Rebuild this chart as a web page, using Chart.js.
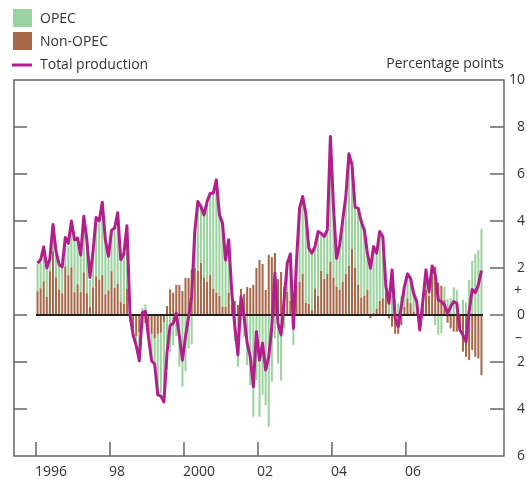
<!DOCTYPE html>
<html>
<head>
<meta charset="utf-8">
<script src="https://cdn.jsdelivr.net/npm/chart.js@4"></script>
<style>
  body { margin: 0; background: #fff; }
  #wrap { width: 527px; height: 479px; }
</style>
</head>
<body>
<div id="wrap"><canvas id="oilChart" width="527" height="479"></canvas></div>
<script>
// monthly, Jan 1996 to Jan 2008
const months = [];
for (let yr = 1996; yr <= 2008; yr++) {
    for (let m = 1; m <= 12; m++) {
        if (yr === 2008 && m > 1) break;
        months.push(yr + '-' + String(m).padStart(2, '0'));
    }
}

// contributions, percentage points
const nonOpec = [
    1.01, 1.14, 1.43, 0.77, 1.86, 2.71, 1.6, 1.09, 0.92, 2.07, 1.69, 2.03, 0.97, 1.31, 0.97, 1.82, 0.92, 0.34, 1.18, 1.65, 1.5, 1.7, 0.88, 1.05, 1.86, 1.16, 1.33, 0.55, 0.48, 1.1,
    -0.25, -0.55, -0.9, -0.75, -0.4, -0.35, -0.85, -0.8, -1.0, -0.8, -0.75, -0.3, 0.38, 1.09, 0.95, 1.28, 1.28, 1.02, 1.58, 1.58, 1.93,
    2.0, 1.88, 2.22, 1.59, 1.41, 1.7, 1.11, 0.94, 0.81, 0.36, 0.36, 0.94, 0.43, 0.6, 0.43, 1.11, 0.9, 1.19, 1.15, 1.28,
    2.0, 2.34, 2.17, 1.07, 2.56, 2.46, 2.64, 1.53, 1.83, 1.2, 0.98, 0.6, 0.7, 1.24, 1.41, 1.75, 0.51, 0.47, 0.21, 1.11, 0.81, 1.88, 1.53, 1.75, 2.26, 1.59,
    1.21, 1.07, 1.42, 1.75, 2.09, 2.81, 2.0, 1.29, 0.74, 0.82, 1.07, -0.14, 0.1, 0.26, 0.6, 0.71, 0.95, -0.15, -0.5, -0.8, -0.8, -0.43, 0.36, 0.71,
    0.5, 0.14, 0.1, -0.07, 0.3, 1.07, 0.81, 1.7, 2.06, 1.38, 1.24, 0.64, -0.33, -0.57, -0.71, -0.71, -0.6, -1.56, -1.78, -1.92, -1.49, -1.78, -1.85, -2.56
];
const opec = [
    1.15, 1.12, 1.32, 1.16, 0.54, 0.89, 1.15, 1.07, 1.15, 1.11, 1.24, 1.87, 2.21, 1.93, 1.57, 2.28, 2.26, 1.16, 1.43, 2.38, 2.4, 2.97, 2.3, 1.42, 1.64, 2.44, 2.93, 1.79, 2.22, 2.6,
    0.15, -0.3, -0.4, -1.2, 0.3, 0.45, -0.1, -1.1, -1.2, -2.6, -2.6, -3.3, -2.3, -1.56, -1.28, -0.9, -2.2, -3.05, -2.4, -1.42, -1.25,
    1.55, 2.95, 2.4, 2.67, 3.42, 3.48, 4.07, 4.81, 3.45, 3.55, 1.98, 2.26, 0.56, -1.1, -2.2, -0.36, -0.92, -2.13, -2.98, -4.33,
    -2.77, -4.33, -3.41, -3.84, -4.76, -2.84, -0.99, -2.06, -2.8, -0.57, 1.22, 2.0, -1.28, 1.0, 3.14, 3.29, 3.82, 2.37, 2.42, 1.8, 2.74, 1.6, 1.81, 1.87, 5.34, 3.0,
    1.2, 1.91, 2.63, 3.29, 4.77, 3.59, 2.59, 3.26, 3.24, 2.8, 1.56, 2.1, 2.8, 2.37, 2.95, 2.63, 0.5, 0.7, 1.9, 0.7, 0.5, 0.8, 0.84, 1.04,
    1.06, 0.78, 0.47, -0.6, 0.3, 0.85, 0.18, 0.39, -0.43, -0.85, -0.78, 0.56, 0.67, 0.71, 1.18, 1.07, -0.05, 0.64, 0.53, 1.49, 2.3, 2.6, 2.77, 3.66
];
const totalProduction = [
    2.2, 2.35, 2.9, 2.0, 2.4, 3.85, 2.7, 2.15, 2.05, 3.3, 3.05, 4.0, 3.2, 3.27, 2.55, 4.2, 3.2, 1.6, 2.7, 4.15, 4.0, 4.8, 3.2, 2.5, 3.6, 3.7, 4.35, 2.35, 2.6, 3.8,
    0.0, -0.85, -1.3, -1.95, 0.1, 0.15, -0.95, -1.95, -2.1, -3.4, -3.45, -3.7, -1.6, -0.45, -0.35, 0.08, -0.9, -1.92, -0.92, -0.07, 0.78,
    3.55, 4.83, 4.62, 4.26, 4.83, 5.18, 5.18, 5.75, 4.26, 3.91, 2.34, 3.2, 0.99, -0.5, -1.7, 0.78, -0.07, -1.2, -1.78, -3.05,
    -0.71, -1.92, -1.2, -2.34, -1.78, -0.5, 1.78, -0.36, -0.85, 0.64, 2.2, 2.6, -0.57, 2.3, 4.55, 5.04, 4.33, 2.84, 2.63, 2.91, 3.55, 3.48, 3.34, 3.62, 7.6, 4.6,
    2.41, 2.98, 4.05, 5.04, 6.86, 6.4, 4.59, 4.55, 3.98, 3.62, 2.63, 1.99, 2.91, 2.63, 3.55, 3.34, 1.21, 0.5, 1.92, -0.14, -0.5, 0.36, 1.2, 1.75,
    1.56, 0.92, 0.57, -0.64, 0.6, 1.92, 0.99, 2.09, 1.7, 0.64, 0.57, 0.43, 0.07, 0.36, 0.57, 0.5, -0.64, -0.85, -1.14, 0.14, 1.09, 0.95, 1.28, 1.89
];

const yearTicks = ['1996-01', '1998-01', '2000-01', '2002-01', '2004-01', '2006-01'];
const yearLabels = ['1996', '98', '2000', '02', '04', '06'];
const yTicks = [10, 8, 6, 4, 2, 0, -2, -4, -6];
const yTickLabels = ['10', '8', '6', '4', '2', '0', '2', '4', '6'];

const GREEN = 'rgb(155, 211, 158)';
const BROWN = 'rgb(166, 104, 72)';
const MAGENTA = 'rgb(178, 30, 140)';
const TEXT = '#333';
const FRAME = '#666';
const FONT = '14px "Open Sans", "Noto Sans", sans-serif';

const decorations = {
    id: 'decorations',
    afterDatasetDraw(chart, args) {
        if (args.meta.type !== 'bar') return;
        // zero line sits over the bars but under the total line
        const ctx = chart.ctx;
        const y0 = chart.scales.y.getPixelForValue(0);
        ctx.save();
        ctx.strokeStyle = '#222';
        ctx.lineWidth = 2;
        ctx.beginPath();
        ctx.moveTo(chart.chartArea.left, y0);
        ctx.lineTo(chart.chartArea.right, y0);
        ctx.stroke();
        ctx.restore();
    },
    afterDraw(chart) {
        const ctx = chart.ctx;
        const xs = chart.scales.x;
        const ys = chart.scales.y;
        const top = ys.getPixelForValue(10);
        const bottom = ys.getPixelForValue(-6);
        const left = chart.chartArea.left - 22;
        const right = chart.chartArea.right + 21;

        ctx.save();
        // box
        ctx.strokeStyle = FRAME;
        ctx.lineWidth = 1.5;
        ctx.strokeRect(left, top, right - left, bottom - top);

        // y ticks on both sides
        yTicks.forEach(v => {
            const py = ys.getPixelForValue(v);
            if (v !== 10 && v !== -6) {
                ctx.beginPath();
                ctx.moveTo(left, py); ctx.lineTo(left + 13, py);
                ctx.moveTo(right - 14, py); ctx.lineTo(right, py);
                ctx.stroke();
            }
        });

        // x ticks at the start of each labelled year
        const half = (xs.getPixelForValue(1) - xs.getPixelForValue(0)) / 2;
        ctx.font = FONT;
        ctx.fillStyle = TEXT;
        ctx.textBaseline = 'middle';
        ctx.textAlign = 'left';
        yearTicks.forEach((m, i) => {
            const px = xs.getPixelForValue(months.indexOf(m)) - half;
            ctx.beginPath();
            ctx.moveTo(px, bottom); ctx.lineTo(px, bottom - 14);
            ctx.stroke();
            ctx.fillText(yearLabels[i], px - 1, bottom + 16);
        });

        // right-hand tick labels
        ctx.textAlign = 'right';
        yTicks.forEach((v, i) => {
            ctx.fillText(yTickLabels[i], right + 21, ys.getPixelForValue(v));
        });
        ctx.fillText('+', right + 18, ys.getPixelForValue(1));
        ctx.fillText('\u2013', right + 18, ys.getPixelForValue(-1));
        ctx.fillText('Percentage points', right, 64);

        // legend
        ctx.textAlign = 'left';
        ctx.fillStyle = GREEN;
        ctx.fillRect(13, 9, 19, 18);
        ctx.fillStyle = BROWN;
        ctx.fillRect(13, 32, 19, 18);
        ctx.strokeStyle = MAGENTA;
        ctx.lineWidth = 3;
        ctx.beginPath();
        ctx.moveTo(12, 65); ctx.lineTo(32, 65);
        ctx.stroke();
        ctx.fillStyle = TEXT;
        ctx.fillText('OPEC', 40, 19);
        ctx.fillText('Non-OPEC', 40, 42);
        ctx.fillText('Total production', 40, 65);
        ctx.restore();
    }
};

const ctx = document.getElementById('oilChart').getContext('2d');
const oilChart = new Chart(ctx, {
    type: 'bar',
    data: {
        labels: months,
        datasets: [{
            type: 'line',
            label: 'Total production',
            data: totalProduction,
            borderColor: MAGENTA,
            borderWidth: 3,
            borderJoinStyle: 'round',
            pointRadius: 0,
            tension: 0,
            stack: 'total',
            order: 0
        }, {
            label: 'Non-OPEC',
            data: nonOpec,
            backgroundColor: BROWN,
            stack: 'bars',
            categoryPercentage: 1,
            barPercentage: 0.66,
            order: 1
        }, {
            label: 'OPEC',
            data: opec,
            backgroundColor: GREEN,
            stack: 'bars',
            categoryPercentage: 1,
            barPercentage: 0.66,
            order: 1
        }]
    },
    options: {
        responsive: false,
        animation: false,
        layout: {
            padding: { left: 36, right: 44, top: 80, bottom: 23 }
        },
        plugins: {
            legend: { display: false },
            tooltip: { enabled: false }
        },
        scales: {
            x: {
                display: false,
                stacked: true,
                offset: true
            },
            y: {
                display: false,
                stacked: true,
                min: -6,
                max: 10
            }
        }
    },
    plugins: [decorations]
});
</script>
</body>
</html>
